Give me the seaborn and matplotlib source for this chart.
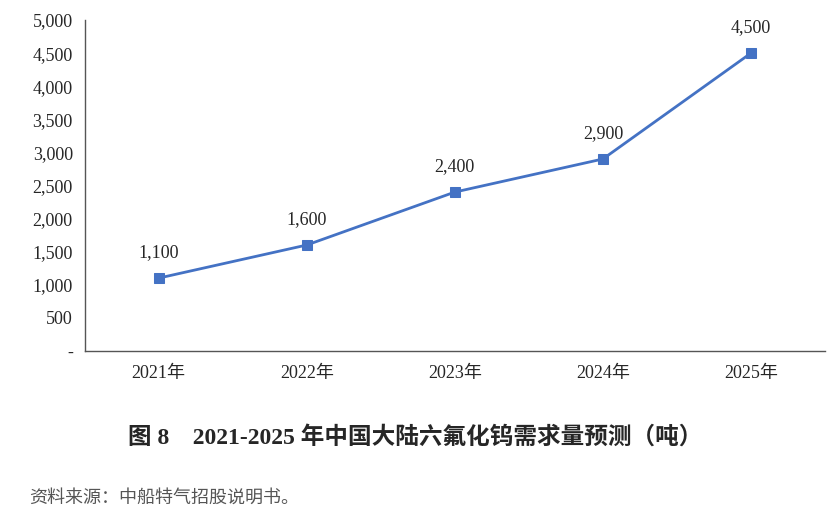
import numpy as np
import pandas as pd
import seaborn as sns
import matplotlib.pyplot as plt
from matplotlib.ticker import FuncFormatter, FixedLocator

years = ['2021年', '2022年', '2023年', '2024年', '2025年']
demand = [1100, 1600, 2400, 2900, 4500]

df = pd.DataFrame({'year': years, 'demand': demand})
df['pos'] = range(len(years))

sns.set_style('white')
plt.rcParams['font.family'] = ['Liberation Serif', 'Noto Sans CJK SC']

fig = plt.figure(figsize=(8.3, 5.13), dpi=100)
ax = fig.add_axes([0.102, 0.316, 0.892, 0.645])

sns.lineplot(data=df, x='pos', y='demand', color='#4472C4', linewidth=2,
             marker='s', markersize=7, markeredgecolor='#4472C4', ax=ax)
for x, y in zip(df['pos'], df['demand']):
    ax.annotate(f'{y:,}', (x, y), xytext=(0, 12), textcoords='offset points',
                ha='center', va='bottom', fontsize=13)

ax.set_xlim(-0.5, len(years) - 0.5)
ax.set_ylim(0, 5000)
ax.set_yticks(range(0, 5001, 500))
ax.yaxis.set_major_formatter(FuncFormatter(lambda v, p: '-' if v == 0 else f'{int(v):,}'))
ax.set_xticks(df['pos'])
ax.set_xticklabels(years, fontsize=13)
ax.xaxis.set_minor_locator(FixedLocator(np.arange(-0.5, len(years), 1)))
ax.tick_params(axis='x', which='major', length=0, pad=10)
ax.tick_params(axis='x', which='minor', length=5, direction='out', color='#555555')
ax.tick_params(axis='y', length=5, direction='out', color='#555555', labelsize=13)
ax.set_xlabel('')
ax.set_ylabel('')
for s in ['top', 'right']:
    ax.spines[s].set_visible(False)
for s in ['left', 'bottom']:
    ax.spines[s].set_color('#555555')
    ax.spines[s].set_linewidth(1)

fig.text(0.5, 0.148, '图 8    2021-2025 年中国大陆六氟化钨需求量预测（吨）', ha='center',
         va='center', fontsize=17, fontweight='bold')
fig.text(0.035, 0.03, '资料来源：中船特气招股说明书。', ha='left', va='center',
         fontsize=13, color='#555555', family=['Noto Sans CJK SC'])

fig.savefig('out.png', dpi=100)
